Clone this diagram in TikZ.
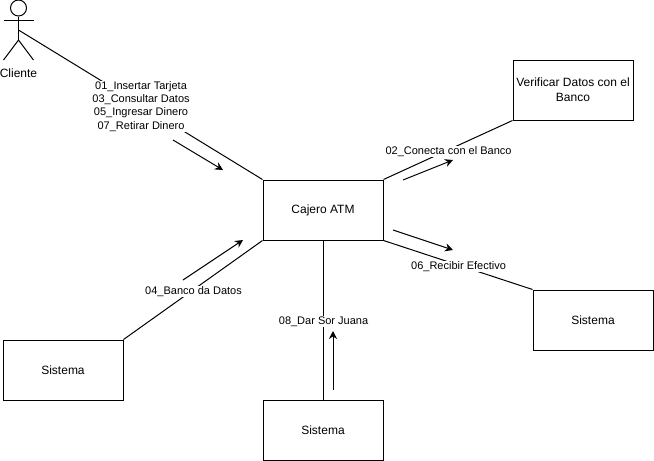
\documentclass[tikz,border=0pt]{standalone}
\usepackage{fontspec}
\setmainfont{Liberation Sans}
\usetikzlibrary{arrows.meta}

\begin{document}
\begin{tikzpicture}[x=0.75pt,y=-0.75pt,line width=0.75pt,
      box/.style={draw,minimum width=90pt,minimum height=45pt,inner sep=0pt,align=center,font=\fontsize{9}{11}\selectfont},
      lbl/.style={fill=white,inner sep=0.5pt,xshift=0.4pt,yshift=-1.2pt,align=center,font=\fontsize{8.25}{10}\selectfont},
      msg/.style={-{Stealth[length=6pt,width=6pt]}}]
      \useasboundingbox (0,0) rectangle (654,461);
      % actor
      \node[draw,circle,minimum size=12pt,inner sep=0pt] (head) at (18.5,8) {};
      \coordinate (neck) at (18.5,16);
      \coordinate (hip) at (18.5,40);
      \coordinate (armL) at (3.5,20);
      \coordinate (armR) at (33.5,20);
      \coordinate (legL) at (3.5,60);
      \coordinate (legR) at (33.5,60);
      \coordinate (client) at (18.5,30);
      \draw (head.south) -- (hip);
      \draw (armL) -- (armR);
      \draw (legL) -- (hip) -- (legR);
      \node[font=\fontsize{9}{11}\selectfont] (clientname) at (18.5,73.5) {Cliente};
      % boxes
      \node[box] (atm) at (323,210) {Cajero ATM};
      \node[box] (bank) at (573,90) {Verificar Datos con el\\Banco};
      \node[box] (sysright) at (593,320) {Sistema};
      \node[box] (sysleft) at (63,370) {Sistema};
      \node[box] (sysbottom) at (323,430) {Sistema};
      % links
      \draw (client) -- node[lbl] {01\_Insertar Tarjeta\\03\_Consultar Datos\\05\_Ingresar Dinero\\07\_Retirar Dinero} (atm.north west);
      \draw (atm.north east) -- node[lbl] {02\_Conecta con el Banco} (bank.south west);
      \draw (atm.south east) -- node[lbl] {06\_Recibir Efectivo} (sysright.north west);
      \draw (sysleft.north east) -- node[lbl] {04\_Banco da Datos} (atm.south west);
      \draw (sysbottom.north) -- node[lbl] {08\_Dar Sor Juana} (atm.south);
      % messages
      \coordinate (a1) at (173,140);
      \coordinate (b1) at (223,170);
      \coordinate (a2) at (403,180);
      \coordinate (b2) at (453,160);
      \coordinate (a3) at (393,230);
      \coordinate (b3) at (453,250);
      \coordinate (a4) at (183,280);
      \coordinate (b4) at (243,240);
      \coordinate (a5) at (333,390);
      \coordinate (b5) at (333,331);
      \draw[msg] (a1) -- (b1);
      \draw[msg] (a2) -- (b2);
      \draw[msg] (a3) -- (b3);
      \draw[msg] (a4) -- (b4);
      \draw[msg] (a5) -- (b5);
\end{tikzpicture}
\end{document}
